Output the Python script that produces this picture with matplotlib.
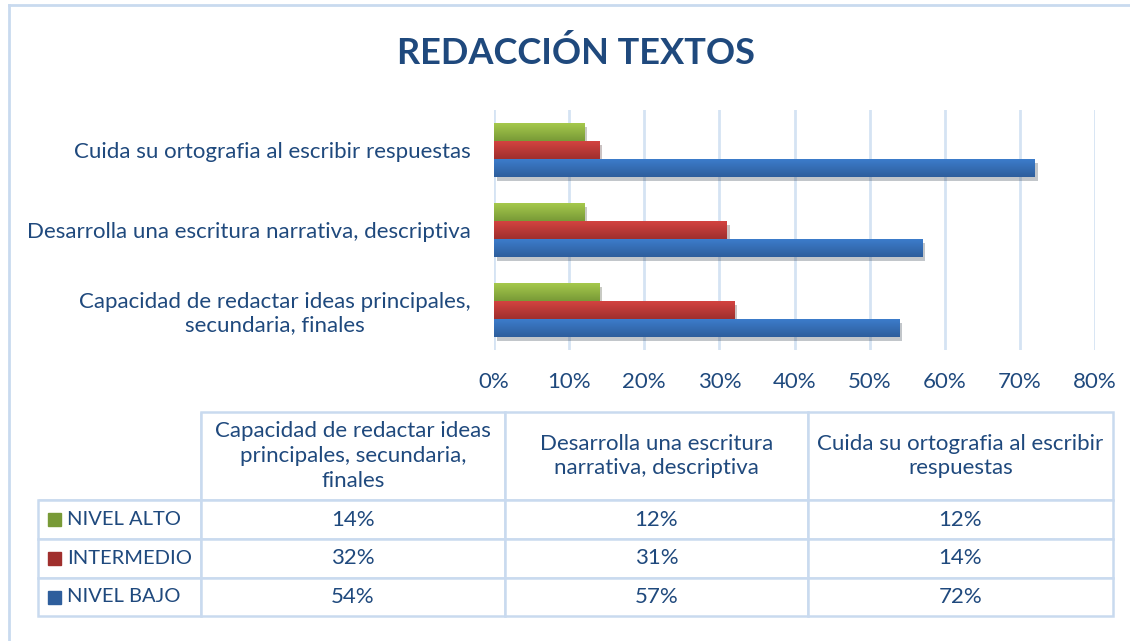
import numpy as np
import matplotlib.pyplot as plt
from matplotlib.patches import Rectangle
from matplotlib.lines import Line2D
import matplotlib.patheffects as pe

# --- Datos ---
categorias = ['Capacidad de redactar ideas principales,\nsecundaria, finales',
              'Desarrolla una escritura narrativa, descriptiva',
              'Cuida su ortografia al escribir respuestas']
encabezados = ['Capacidad de redactar ideas\nprincipales, secundaria,\nfinales',
               'Desarrolla una escritura\nnarrativa, descriptiva',
               'Cuida su ortografia al escribir\nrespuestas']
series = ['NIVEL ALTO', 'INTERMEDIO', 'NIVEL BAJO']
nivel_alto = [14, 12, 12]
intermedio = [32, 31, 14]
nivel_bajo = [54, 57, 72]
xticks = [0, 10, 20, 30, 40, 50, 60, 70, 80]

# colores (claro arriba, oscuro abajo) estilo Office
colores = {'NIVEL ALTO': ('#A6C94C', '#789A37'),
           'INTERMEDIO': ('#D34340', '#A02F2D'),
           'NIVEL BAJO': ('#3C7CCB', '#2E5E9C')}
texto = '#1F497D'
linea = '#C9DAEF'

plt.rcParams['font.family'] = ['Lato', 'DejaVu Sans']

fig = plt.figure(figsize=(11.3, 6.41), dpi=100)
W, H = 1130, 641

# borde exterior
fig.add_artist(Line2D([9 / W, 9 / W], [0, 1 - 5 / H], color=linea, lw=2))
fig.add_artist(Line2D([9 / W, 1], [1 - 5 / H, 1 - 5 / H], color=linea, lw=2))

fig.text(576 / W, 1 - 53 / H, 'REDACCIÓN TEXTOS', ha='center', va='center',
         fontsize=26, fontweight='bold', color=texto)

# --- Barras ---
ax = fig.add_axes([494 / W, 1 - 350 / H, (1095 - 494) / W, 240 / H])
y = np.arange(len(categorias))
h = 0.225
valores = {'NIVEL ALTO': nivel_alto, 'INTERMEDIO': intermedio, 'NIVEL BAJO': nivel_bajo}
offs = {'NIVEL ALTO': h, 'INTERMEDIO': 0.0, 'NIVEL BAJO': -h}
grad = np.linspace(0, 1, 64).reshape(-1, 1)
for s in series:
    c1, c2 = colores[s]
    bars = ax.barh(y + offs[s], valores[s], height=h, color=c2, zorder=3,
                   path_effects=[pe.SimplePatchShadow(offset=(2, -3), alpha=0.25),
                                 pe.Normal()])
    cmap = plt.matplotlib.colors.LinearSegmentedColormap.from_list(s, [c2, c1])
    for b in bars:
        x0, y0, bw, bh = b.get_x(), b.get_y(), b.get_width(), b.get_height()
        im = ax.imshow(grad, extent=[x0, x0 + bw, y0, y0 + bh], aspect='auto',
                       cmap=cmap, origin='lower', zorder=4)
        im.set_clip_path(b)

ax.set_xlim(0, 80)
ax.set_ylim(-0.5, 2.5)
ax.set_xticks(xticks)
ax.set_xticklabels([f'{t}%' for t in xticks])
ax.set_yticks(y)
ax.set_yticklabels(categorias, multialignment='center')
ax.tick_params(length=0, labelsize=16, colors=texto)
ax.tick_params(axis='x', pad=16)
ax.tick_params(axis='y', pad=17)
ax.grid(axis='x', color='#D5E3F3', lw=2, zorder=0)
for sp in ax.spines.values():
    sp.set_visible(False)

# --- Tabla de datos ---
tax = fig.add_axes([38 / W, 25 / H, (1113 - 38) / W, (616 - 412) / H])
tax.axis('off')
filas = [[''] + encabezados]
for s in series:
    filas.append([s] + [f'{v}%' for v in valores[s]])
anchos = [163, 304, 303, 305]
altos = [88, 39, 39, 38]
tbl = tax.table(cellText=filas, cellLoc='center', bbox=[0, 0, 1, 1])
tbl.auto_set_font_size(False)
for (r, c), cell in tbl.get_celld().items():
    cell.set_width(anchos[c])
    cell.set_height(altos[r])
    cell.set_edgecolor(linea)
    cell.set_linewidth(1.8)
    cell.get_text().set_color(texto)
    cell.get_text().set_fontsize(16)
    cell.get_text().set_linespacing(1.3)
    if c == 0:
        cell.get_text().set_ha('left')
        cell.get_text().set_fontsize(14.5)
        cell.PAD = 0.178
    if r == 0 and c == 0:
        cell.visible_edges = 'BR'

# cuadros de leyenda
total_h = sum(altos)
tope = total_h - altos[0]
for i, s in enumerate(series):
    yc = (tope - altos[i + 1] / 2) / total_h
    tope -= altos[i + 1]
    sq = 13
    tax.add_patch(Rectangle((10 / 1075, yc - sq / 2 / total_h), sq / 1075, sq / total_h,
                            transform=tax.transAxes, color=colores[s][1], zorder=5,
                            clip_on=False))

fig.savefig('out.png', dpi=100)
